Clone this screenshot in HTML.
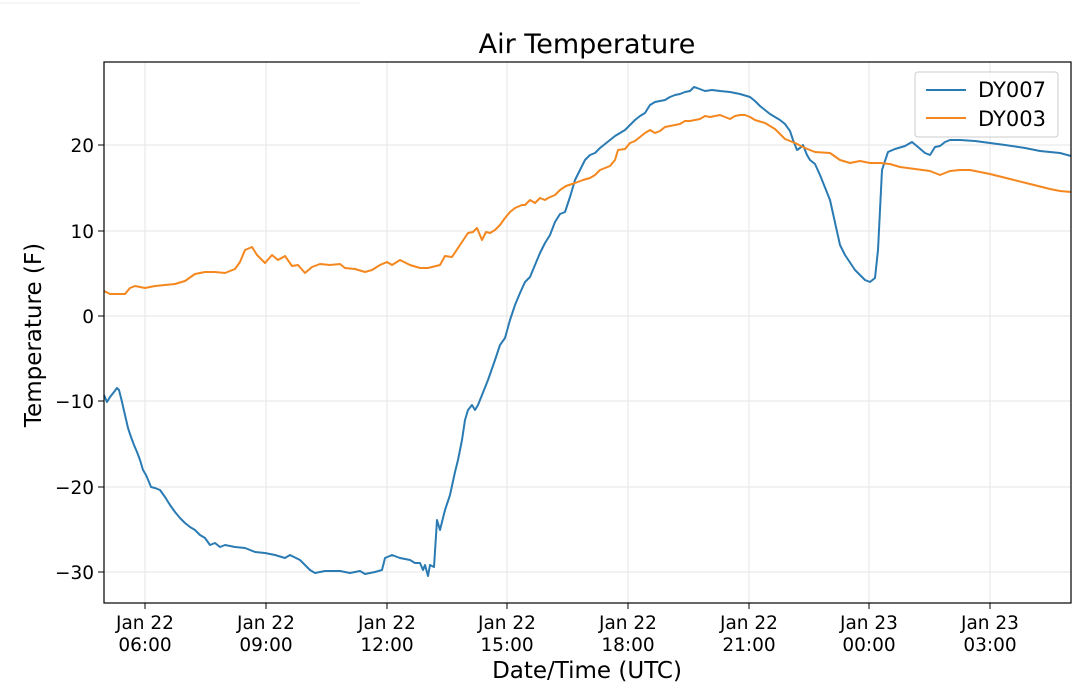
<!DOCTYPE html>
<html><head><meta charset="utf-8"><style>body{margin:0;background:#fff}svg{display:block;font-family:"DejaVu Sans","Liberation Sans",sans-serif}</style></head>
<body>
<svg width="1080" height="697" viewBox="0 0 1080 697">
<rect width="1080" height="697" fill="#fff"/>
<line x1="0" y1="3" x2="360" y2="3" stroke="#eee" stroke-width="1"/>
<g stroke="#e6e6e6" stroke-width="1">
<line x1="145" y1="62" x2="145" y2="603"/><line x1="266" y1="62" x2="266" y2="603"/><line x1="387" y1="62" x2="387" y2="603"/><line x1="507" y1="62" x2="507" y2="603"/><line x1="628" y1="62" x2="628" y2="603"/><line x1="749" y1="62" x2="749" y2="603"/><line x1="869" y1="62" x2="869" y2="603"/><line x1="990" y1="62" x2="990" y2="603"/>
<line x1="104" y1="145" x2="1071" y2="145"/><line x1="104" y1="231" x2="1071" y2="231"/><line x1="104" y1="316" x2="1071" y2="316"/><line x1="104" y1="401" x2="1071" y2="401"/><line x1="104" y1="487" x2="1071" y2="487"/><line x1="104" y1="572" x2="1071" y2="572"/>
</g>
<polyline fill="none" stroke="#2a7bb3" stroke-width="2" stroke-linejoin="round" points="104,395 107,402 110,397 114,392 117,388 119,390 122,402 125,415 128,428 131,437 134,445 137,452 140,460 143,470 146,475 149,482 151,487 155,488 160,490 165,497 170,505 175,512 180,518 185,523 190,527 195,530 200,535 205,538 210,545 215,543 220,547 225,545 235,547 245,548 255,552 265,553 275,555 285,558 290,555 300,560 310,570 315,573 325,571 340,571 350,573 360,571 365,574 375,572 382,570 385,558 392,555 400,558 410,560 415,563 420,563 423,570 425,565 428,576 430,565 434,567 437,520 440,530 445,510 450,495 455,472 458,460 462,440 465,420 468,410 472,405 475,410 478,405 482,395 488,380 495,360 500,345 505,338 510,320 515,305 520,293 525,282 530,277 535,265 540,253 545,243 550,235 555,222 560,214 565,212 570,197 575,180 580,170 585,160 590,155 595,153 600,148 605,144 610,140 615,136 620,133 625,130 630,125 635,120 640,116 645,113 650,105 655,102 660,101 665,100 670,97 675,95 680,94 685,92 690,91 694,87 697,88 705,91 712,90 720,91 730,92 740,94 750,97 755,101 760,106 770,114 780,120 785,124 790,131 793,140 797,150 800,148 803,145 807,155 810,160 815,164 820,175 830,200 840,245 845,255 855,270 865,280 870,282 875,278 878,250 882,170 888,152 895,149 905,146 912,142 918,147 925,153 930,155 935,147 940,146 945,142 950,140 960,140 975,141 990,143 1005,145 1025,148 1040,151 1060,153 1071,156"/>
<polyline fill="none" stroke="#f5871f" stroke-width="2" stroke-linejoin="round" points="104,291 110,294 120,294 125,294 130,288 135,286 145,288 155,286 165,285 175,284 185,281 195,274 205,272 215,272 225,273 235,269 240,262 245,250 252,247 257,255 265,263 272,255 278,260 285,256 292,266 298,265 305,273 312,267 320,264 330,265 340,264 345,268 355,269 365,272 372,270 380,265 387,262 392,265 400,260 410,265 420,268 428,268 440,265 445,256 452,257 460,245 468,233 473,232 477,228 482,240 486,232 490,233 495,230 500,225 505,218 510,212 515,208 522,205 525,205 530,200 535,203 540,198 545,200 548,198 555,195 560,190 566,186 575,183 583,180 590,178 595,175 600,170 605,168 610,166 615,160 618,150 625,149 630,143 635,141 640,137 645,133 650,130 655,133 660,131 665,127 670,126 675,125 680,124 685,121 690,121 695,120 700,119 705,116 710,117 715,116 720,115 725,117 730,119 735,116 740,115 745,115 750,117 755,120 765,123 775,129 785,139 795,143 805,148 815,152 830,153 840,160 850,163 860,161 870,163 880,163 890,164 900,167 915,169 930,171 940,175 945,173 950,171 960,170 970,170 980,172 990,174 1010,179 1030,184 1050,189 1060,191 1071,192"/>
<rect x="104" y="62" width="967" height="541" fill="none" stroke="#000" stroke-width="1.2"/>
<g stroke="#000" stroke-width="1">
<line x1="145" y1="603" x2="145" y2="609"/><line x1="266" y1="603" x2="266" y2="609"/><line x1="387" y1="603" x2="387" y2="609"/><line x1="507" y1="603" x2="507" y2="609"/><line x1="628" y1="603" x2="628" y2="609"/><line x1="749" y1="603" x2="749" y2="609"/><line x1="869" y1="603" x2="869" y2="609"/><line x1="990" y1="603" x2="990" y2="609"/>
<line x1="98" y1="145" x2="104" y2="145"/><line x1="98" y1="231" x2="104" y2="231"/><line x1="98" y1="316" x2="104" y2="316"/><line x1="98" y1="401" x2="104" y2="401"/><line x1="98" y1="487" x2="104" y2="487"/><line x1="98" y1="572" x2="104" y2="572"/>
</g>
<g font-size="18.5" fill="#000" text-anchor="end">
<text x="94" y="152">20</text><text x="94" y="238">10</text><text x="94" y="323">0</text><text x="94" y="408">−10</text><text x="94" y="494">−20</text><text x="94" y="579">−30</text>
</g>
<g font-size="18.5" fill="#000" text-anchor="middle">
<text x="145" y="629">Jan 22</text><text x="145" y="651">06:00</text>
<text x="266" y="629">Jan 22</text><text x="266" y="651">09:00</text>
<text x="387" y="629">Jan 22</text><text x="387" y="651">12:00</text>
<text x="507" y="629">Jan 22</text><text x="507" y="651">15:00</text>
<text x="628" y="629">Jan 22</text><text x="628" y="651">18:00</text>
<text x="749" y="629">Jan 22</text><text x="749" y="651">21:00</text>
<text x="869" y="629">Jan 23</text><text x="869" y="651">00:00</text>
<text x="990" y="629">Jan 23</text><text x="990" y="651">03:00</text>
</g>
<text x="587" y="678" font-size="23" text-anchor="middle">Date/Time (UTC)</text>
<text x="41" y="335" font-size="23" text-anchor="middle" transform="rotate(-90 41 335)">Temperature (F)</text>
<text x="587" y="53" font-size="27" text-anchor="middle">Air Temperature</text>
<rect x="915" y="72" width="143" height="65" rx="3" fill="#fff" fill-opacity="0.8" stroke="#ccc"/>
<line x1="926" y1="90" x2="966" y2="90" stroke="#2a7bb3" stroke-width="2"/>
<line x1="926" y1="118" x2="966" y2="118" stroke="#f5871f" stroke-width="2"/>
<text x="978" y="97" font-size="21">DY007</text>
<text x="978" y="126" font-size="21">DY003</text>
</svg>
</body></html>
